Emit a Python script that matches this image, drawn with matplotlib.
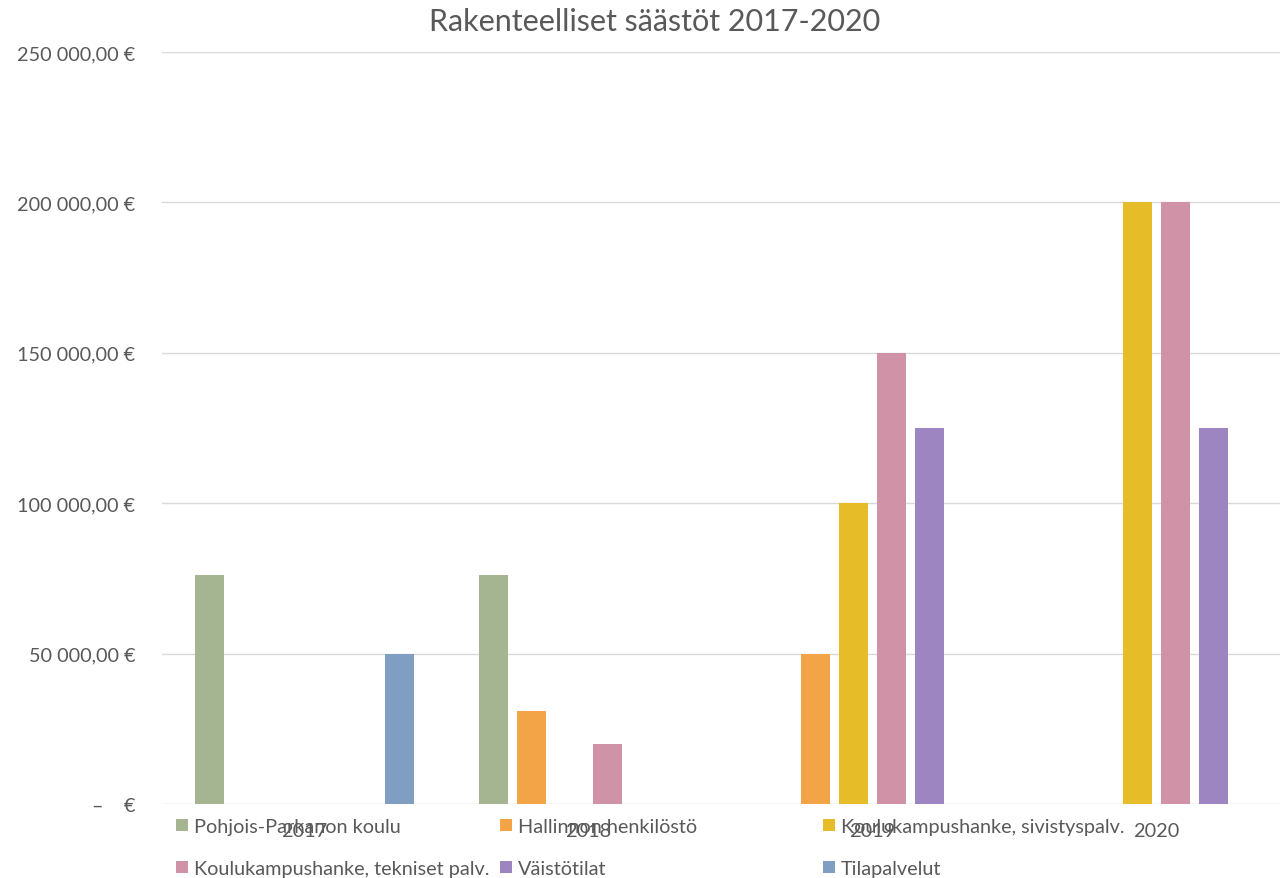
import numpy as np
import matplotlib
matplotlib.use('Agg')
import matplotlib.pyplot as plt
from matplotlib.ticker import FuncFormatter

plt.rcParams['font.family'] = ['Lato', 'DejaVu Sans']

# Data
years = ['2017', '2018', '2019', '2020']
series = ['Pohjois-Parkanon koulu', 'Hallinnon henkilöstö', 'Koulukampushanke, sivistyspalv.',
          'Koulukampushanke, tekniset palv.', 'Väistötilat', 'Tilapalvelut']
pohjois = [76000, 76000, 0, 0]
hallinto = [0, 31000, 50000, 0]
sivistys = [0, 0, 100000, 200000]
tekniset = [0, 20000, 150000, 200000]
vaisto = [0, 0, 125000, 125000]
tilapalvelut = [50000, 0, 0, 0]
values = [pohjois, hallinto, sivistys, tekniset, vaisto, tilapalvelut]
colors = ['#A5B592', '#F3A447', '#E7BC29', '#D092A7', '#9C85C0', '#809EC2']

text_col = '#595959'
fs = 14.3

fig = plt.figure(figsize=(12.81, 8.79), dpi=100)
ax = fig.add_axes([162 / 1281, 1 - 805 / 879, (1280 - 162) / 1281, (805 - 53) / 879])

x = np.arange(len(years))
pitch = 38 / 284
width = 29 / 284
bars = []
for i, (name, vals) in enumerate(zip(series, values)):
    b = ax.bar(x + (i - 2.5) * pitch, vals, width, color=colors[i], label=name, zorder=3)
    bars.append(b)

ax.set_xlim(-0.502, 3.435)
ax.set_ylim(0, 250000)
ax.set_yticks(np.arange(0, 250001, 50000))
ax.set_xticks(x)
ax.set_xticklabels(years)


def euro(v, pos):
    if v == 0:
        return '–    €'
    s = f'{v:,.2f}'.replace(',', ' ').replace('.', ',')
    return s + ' €'


ax.yaxis.set_major_formatter(FuncFormatter(euro))
ax.grid(axis='y', color='#D9D9D9', linewidth=1, zorder=0)
for sp in ax.spines.values():
    sp.set_visible(False)
ax.tick_params(axis='y', length=0, pad=19, labelsize=fs, labelcolor=text_col)
ax.tick_params(axis='x', length=0, pad=13, labelsize=fs, labelcolor=text_col)

fig.text(655 / 1281, 1 - 22 / 879, 'Rakenteelliset säästöt 2017-2020', ha='center', va='center',
         fontsize=22, color=text_col)

# legend: three columns, row-major order like Excel
col_x = [176, 500, 823]
for c in range(3):
    h = [bars[c], bars[c + 3]]
    lab = [series[c], series[c + 3]]
    leg = fig.legend(h, lab, loc='upper left', bbox_to_anchor=(col_x[c] / 1281, 1 - 819 / 879),
                     frameon=False, fontsize=fs, labelcolor=text_col, handlelength=0.6,
                     handleheight=0.6, handletextpad=0.3, labelspacing=1.25, borderpad=0,
                     borderaxespad=0)

fig.savefig('out.png', dpi=100)
